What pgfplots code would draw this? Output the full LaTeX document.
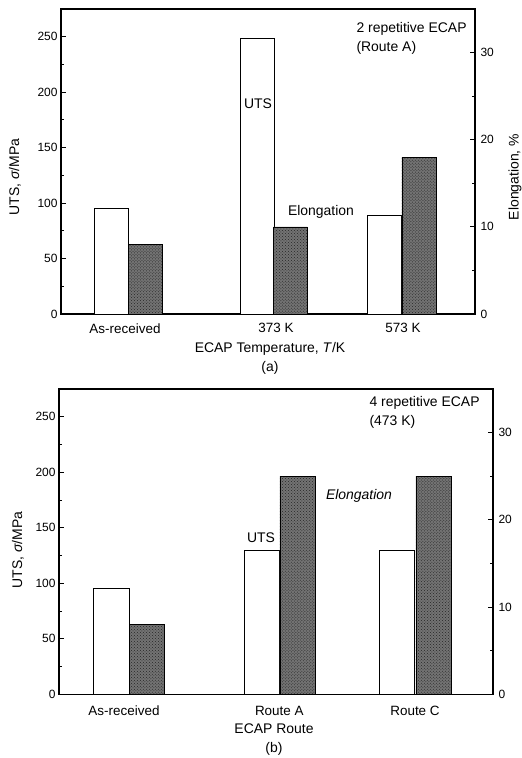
\documentclass[border=0pt]{standalone}
\usepackage{fontspec}
\setmainfont{Liberation Sans}
\usepackage{pgfplots}
\pgfplotsset{compat=1.18}
\usetikzlibrary{patterns}

\pgfplotsset{
  common/.style={
    anchor=south west, scale only axis, clip=false,
    ymin=0,
    ybar, bar shift=0pt,
    axis line style={line width=1.2pt, black},
    tick style={line width=1pt, black},
    major tick length=5bp, minor tick length=3bp,
    tick label style={font=\fontsize{12}{14}\selectfont},
    /pgf/number format/assume math mode=true,
  },
  leftax/.style={common, ymax=275,
    ytick={0,50,100,150,200,250}, minor y tick num=1,
    ytick pos=left, xtick style={draw=none},
  },
  rightax/.style={common, ymax=35,
    axis y line*=right, axis x line=none,
    ytick={0,10,20,30}, minor y tick num=1,
    yticklabel style={xshift=2bp},
  },
  utsbar/.style={draw=black, fill=white, line width=0.9pt},
  elbar/.style={draw=black, line width=0.6pt, fill=black!55,
    postaction={pattern=crosshatch dots, pattern color=black!85}},
}

\begin{document}
\begin{tikzpicture}
\useasboundingbox (0,0) rectangle (522bp,-758bp);

% ---------- panel (a) ----------
\begin{axis}[leftax, at={(61bp,-314bp)}, width=414bp, height=305bp,
  xmin=61, xmax=475, bar width=34,
  xtick={125,276,403}, xticklabels={As-received,373 K,573 K},
  xticklabel style={font=\fontsize{13.5}{15}\selectfont, yshift=-1bp}]
\addplot[utsbar] coordinates {(111.8,95) (257.3,248) (384.3,89)};
\end{axis}
\begin{axis}[rightax, at={(61bp,-314bp)}, width=414bp, height=305bp,
  xmin=61, xmax=475, bar width=34]
\addplot[elbar] coordinates {(145.7,8) (290.3,10) (418.8,18)};
\end{axis}

\begin{scope}[font=\fontsize{14}{16}\selectfont]
\node[anchor=west] at (353bp,-29bp) {2 repetitive ECAP};
\node[anchor=west] at (353bp,-48bp) {(Route A)};
\node at (258bp,-104bp) {UTS};
\node at (321bp,-212bp) {Elongation};
\node[rotate=90] at (15bp,-177bp) {UTS, \textit{σ}/MPa};
\node[rotate=90] at (515bp,-177bp) {Elongation, \%};
\node at (270bp,-349bp) {ECAP Temperature, \textit{T}/K};
\node at (270bp,-368bp) {(a)};
\end{scope}

% ---------- panel (b) ----------
\begin{axis}[leftax, at={(59bp,-694.3bp)}, width=434bp, height=305.3bp,
  xmin=59, xmax=493, bar width=35.5,
  xtick={124,279.3,415}, xticklabels={As-received,Route A,Route C},
  xticklabel style={font=\fontsize{13.5}{15}\selectfont, yshift=-3bp}]
\addplot[utsbar] coordinates {(111.3,95) (261.8,130) (397,130)};
\end{axis}
\begin{axis}[rightax, at={(59bp,-694.3bp)}, width=434bp, height=305.3bp,
  xmin=59, xmax=493, bar width=35.5]
\addplot[elbar] coordinates {(146.8,8) (297.7,25) (433.7,25)};
\end{axis}

\begin{scope}[font=\fontsize{14}{16}\selectfont]
\node[anchor=west] at (366bp,-403bp) {4 repetitive ECAP};
\node[anchor=west] at (366bp,-422bp) {(473 K)};
\node at (261bp,-538bp) {UTS};
\node at (359bp,-496bp) {\textit{Elongation}};
\node[rotate=90] at (18bp,-550bp) {UTS, \textit{σ}/MPa};
\node at (274bp,-729bp) {ECAP Route};
\node at (274bp,-749bp) {(b)};
\end{scope}
\end{tikzpicture}
\end{document}
